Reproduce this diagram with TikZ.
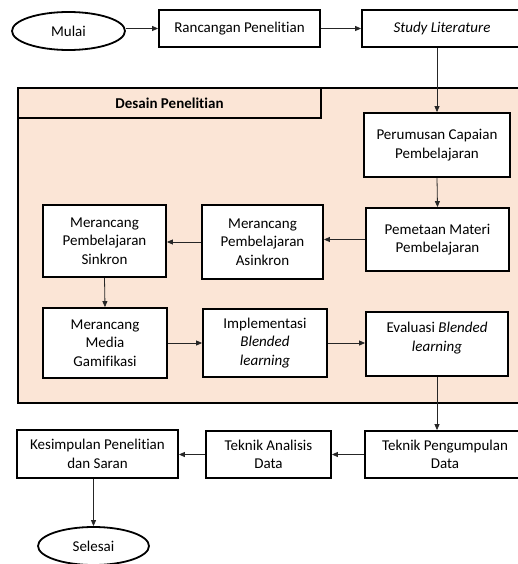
\documentclass[tikz,border=0pt]{standalone}
\usepackage{fontspec}
\setmainfont{Carlito}[Ligatures=NoCommon]
\usetikzlibrary{arrows.meta,shapes.geometric}
\definecolor{peach}{HTML}{FBE5D6}
\begin{document}
\begin{tikzpicture}[x=1pt,y=-1pt,
  every node/.style={font=\fontsize{15}{18.5}\selectfont},
  stepbox/.style={draw, line width=1.8pt, fill=white, align=center, inner sep=0pt},
  oval/.style={draw, ellipse, line width=1.8pt, fill=white, inner sep=0pt},
  arr/.style={-{Triangle[length=6pt,width=5pt]}, line width=0.8pt, draw=black!85}]
\path[use as bounding box, clip] (0,0) rectangle (518,564);
\fill[white] (0,0) rectangle (518,564);
% design region
\draw[line width=1.8pt, fill=peach] (18,88) rectangle (530,403);
\node[draw, line width=1.8pt, minimum width=303pt, minimum height=30pt, inner sep=0pt, font=\fontsize{15}{18.5}\selectfont\bfseries] (hdr) at (169.5,103) {Desain Penelitian};
% nodes
\node[oval, minimum width=113pt, minimum height=38pt] (mulai) at (68.5,31) {Mulai};
\node[stepbox, minimum width=161pt, minimum height=37pt] (ranc) at (239.5,28.5) {Rancangan Penelitian};
\node[stepbox, minimum width=160pt, minimum height=37pt] (study) at (442,28.5) {\itshape Study Literature};
\node[stepbox, minimum width=146pt, minimum height=64pt] (perum) at (437,145) {Perumusan Capaian\\Pembelajaran};
\node[stepbox, minimum width=143pt, minimum height=63pt] (pemet) at (437.5,239.5) {Pemetaan Materi\\Pembelajaran};
\node[stepbox, minimum width=121pt, minimum height=74pt] (asink) at (262.5,242) {Merancang\\Pembelajaran\\Asinkron};
\node[stepbox, minimum width=123pt, minimum height=72pt] (sink) at (104.5,241) {Merancang\\Pembelajaran\\Sinkron};
\node[stepbox, minimum width=124pt, minimum height=70pt] (gamif) at (105,343) {Merancang\\Media\\Gamifikasi};
\node[stepbox, minimum width=124pt, minimum height=68pt] (impl) at (265,343) {Implementasi\\\textit{Blended}\\\textit{learning}};
\node[stepbox, minimum width=142pt, minimum height=64pt] (eval) at (437,344) {Evaluasi \textit{Blended}\\\textit{learning}\\[-4pt]};
\node[stepbox, minimum width=160pt, minimum height=47pt] (pengum) at (445,454.5) {Teknik Pengumpulan\\Data};
\node[stepbox, minimum width=125pt, minimum height=47pt] (anal) at (268.5,454.5) {Teknik Analisis\\Data};
\node[stepbox, minimum width=161pt, minimum height=48pt] (kesim) at (97.5,454) {Kesimpulan Penelitian\\dan Saran};
\node[oval, minimum width=111pt, minimum height=38pt] (selesai) at (93.5,546) {Selesai};
% connectors
\draw[arr] (ranc.west -| mulai.east) -- (ranc.west);
\draw[arr] (ranc.east) -- (ranc.east -| study.west);
\draw[arr] (perum.north |- study.south) -- (perum.north);
\draw[arr] (perum.south) -- (pemet.north);
\draw[arr] (pemet.west) -- (pemet.west -| asink.east);
\draw[arr] (asink.west) -- (asink.west -| sink.east);
\draw[arr] (sink.south) -- (gamif.north);
\draw[arr] (gamif.east) -- (gamif.east -| impl.west);
\draw[arr] (impl.east) -- (impl.east -| eval.west);
\draw[arr] (eval.south) -- (eval.south |- pengum.north);
\draw[arr] (pengum.west) -- (anal.east);
\draw[arr] (anal.west) -- (anal.west -| kesim.east);
\draw[arr] (selesai.north |- kesim.south) -- (selesai.north);
\end{tikzpicture}
\end{document}
